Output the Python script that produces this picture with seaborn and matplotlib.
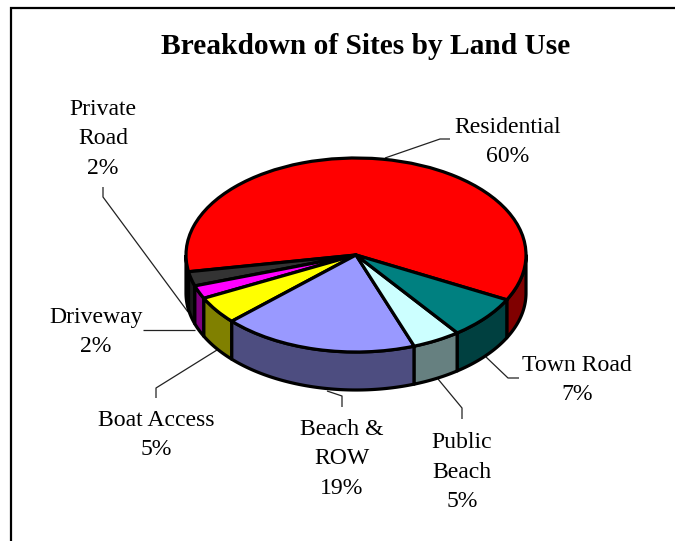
import numpy as np
import matplotlib
matplotlib.use("Agg")
import matplotlib.pyplot as plt
from matplotlib.patches import PathPatch
from matplotlib.path import Path
import seaborn as sns

# --- data -------------------------------------------------------------
labels = ["Residential\n60%", "Private\nRoad\n2%", "Driveway\n2%", "Boat Access\n5%",
          "Beach &\nROW\n19%", "Public\nBeach\n5%", "Town Road\n7%"]
values = [60.4, 2.4, 2.2, 4.6, 18.6, 4.6, 7.2]
top_colors = ["#FF0000", "#333333", "#FF00FF", "#FFFF00", "#9999FF", "#CCFFFF", "#008080"]
side_colors = ["#800000", "#1A1A1A", "#800080", "#808000", "#4D4D80", "#668080", "#004040"]
start_angle = -27.5

# --- layout (pixels in a 675x541 picture) ------------------------------
W, H = 675, 541
CX, CY, RX, RY, DEPTH = 356, 255, 170, 97, 38
label_pos = [(508, 142), (103, 139), (96, 332), (156, 435), (342, 459), (462, 472), (577, 380)]
leaders = [[(450, 139), (440, 139), (385, 158)],
           [(103, 187), (103, 197), (188, 312)],
           [(143, 330), (195, 330)],
           [(156, 398), (156, 388), (217, 350)],
           [(342, 407), (342, 396), (327, 391)],
           [(462, 419), (462, 408), (438, 379)],
           [(519, 378), (508, 378), (486, 357)]]

sns.set_theme(style="white", rc={"font.family": ["Liberation Serif"], "savefig.facecolor": "white"})
fig = plt.figure(figsize=(W / 100, H / 100), dpi=100)

# ellipse top drawn by the pie itself; the axes are stretched so 1 unit = RX / RY pixels
ax = fig.add_axes([0, 0, 1, 1])
wedges, _ = ax.pie(values, colors=top_colors, startangle=start_angle, counterclock=True,
                   radius=1, normalize=True,
                   wedgeprops=dict(edgecolor="black", linewidth=2.3, joinstyle="round", zorder=5))
ax.set_aspect("auto")
ax.set_xlim(-CX / RX, (W - CX) / RX)
ax.set_ylim(-(H - CY) / RY, CY / RY)
ax.axis("off")


def px(x, y):
    return (x - CX) / RX, (CY - y) / RY


# side walls of the slices, from the slice angles
d = DEPTH / RY
angles = start_angle + np.cumsum([0] + values) / sum(values) * 360
for a0, a1, col in zip(angles[:-1], angles[1:], side_colors):
    # visible part of the rim: lower half of the ellipse (180..360 deg)
    lo, hi = a0, a1
    for shift in (0, 360):
        l, h = max(lo + shift, 180), min(hi + shift, 360)
        if h <= l:
            continue
        t = np.radians(np.linspace(l, h, 80))
        xs, ys = np.cos(t), np.sin(t)
        verts = np.r_[np.c_[xs, ys], np.c_[xs[::-1], ys[::-1] - d], [[xs[0], ys[0]]]]
        ax.add_patch(PathPatch(Path(verts, closed=False), facecolor=col, edgecolor="black",
                               linewidth=2.3, joinstyle="round", zorder=3))

# leader lines
for pts in leaders:
    p = np.array([px(*q) for q in pts])
    ax.plot(p[:, 0], p[:, 1], color="#222222", lw=0.9, zorder=2, solid_capstyle="butt")

# labels
for lab, (x, y) in zip(labels, label_pos):
    ax.text(*px(x, y), lab, ha="center", va="center", fontsize=17.1, color="black",
            linespacing=1.55, zorder=6)
ax.text(*px(366, 47), "Breakdown of Sites by Land Use", ha="center", va="center",
        fontsize=21.2, fontweight="bold", color="black", zorder=6)

# chart border: only the left and top edges reach the picture
bx0, by0 = 10.5, 8.5
b = np.array([px(bx0, H), px(bx0, by0), px(W, by0)])
ax.plot(b[:, 0], b[:, 1], color="black", lw=1.6, zorder=1, solid_joinstyle="miter")

fig.savefig("out.png", dpi=100, facecolor="white")
